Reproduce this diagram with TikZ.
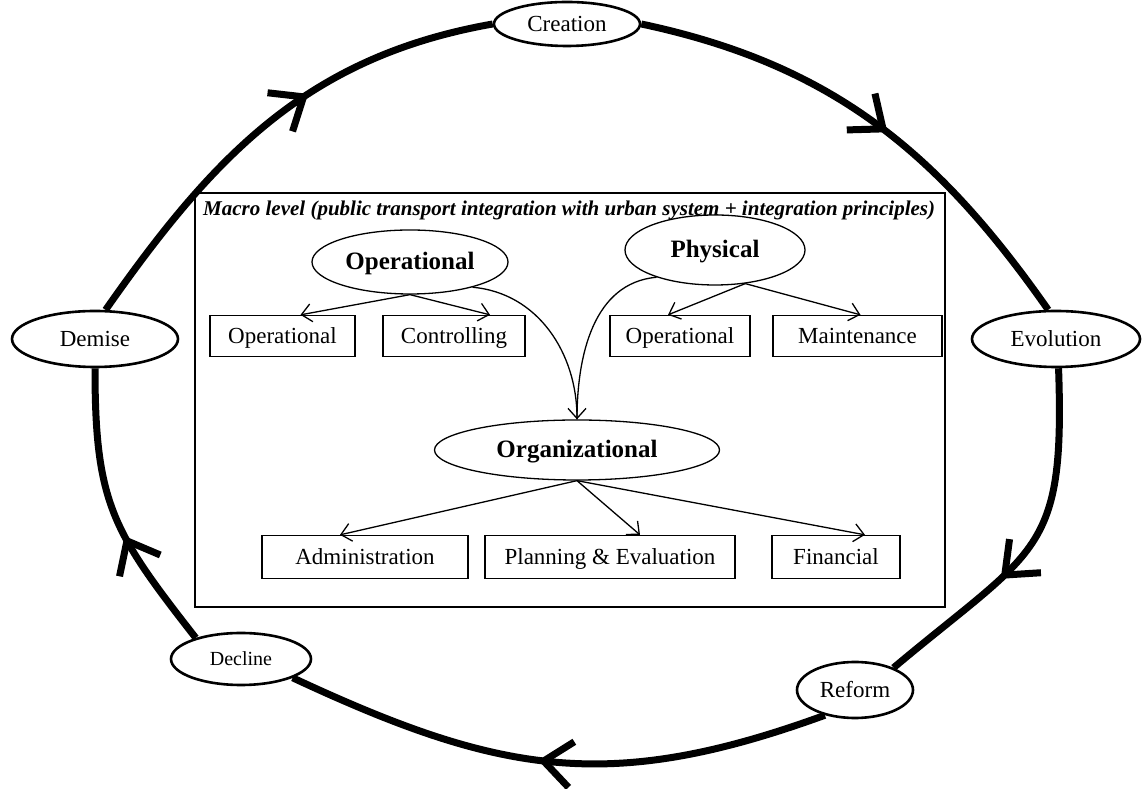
\documentclass[tikz,border=0pt]{standalone}
\usepackage{fontspec}
\setmainfont{Liberation Serif}
\usetikzlibrary{shapes.geometric,arrows.meta,decorations.markings,calc}
\begin{document}
\begin{tikzpicture}[x=1pt,y=1pt,
  stage/.style={draw,ellipse,line width=2.6pt,inner sep=0pt,font=\fontsize{23}{27}\selectfont},
  level/.style={draw,ellipse,line width=1.3pt,inner sep=0pt,text height=19pt,text depth=3pt,font=\fontsize{25}{29}\selectfont\bfseries},
  part/.style={draw,line width=1.3pt,inner sep=0pt,minimum height=41pt,text height=18pt,text depth=3pt,font=\fontsize{23}{27}\selectfont},
  link/.style={line width=1.3pt,-{Straight Barb[length=10pt,width=18pt]}},
  loopline/.style={line width=7pt,postaction={decorate},decoration={markings,
      mark=at position #1 with {\arrow{Straight Barb[length=28pt,width=46pt]}}}}]
\useasboundingbox (0,0) rectangle (1143,789);

% life cycle stages
\node[stage,minimum width=146pt,minimum height=44pt] (creation) at (567,765) {Creation};
\node[stage,minimum width=168pt,minimum height=56pt] (evolution) at (1056,450) {Evolution};
\node[stage,minimum width=116pt,minimum height=56pt] (reform) at (855,99) {Reform};
\node[stage,minimum width=140pt,minimum height=52pt,font=\fontsize{20}{24}\selectfont] (decline) at (241,130) {Decline};
\node[stage,minimum width=166pt,minimum height=56pt] (demise) at (95,450) {Demise};

\draw[loopline=0.53] (creation.east) to[out=-12,in=125] (evolution.105);
\draw[loopline=0.62] (evolution.-85) to[out=-88,in=40,looseness=1.4] (reform.30);
\draw[loopline=0.53] (reform.-140) to[out=200,in=-25,looseness=1.1] (decline.-20);
\draw[loopline=0.42] (decline.155) to[out=128,in=-90,looseness=1.2] (demise.-90);
\draw[loopline=0.6] (demise.70) to[out=55,in=190] (creation.west);

% macro level frame
\draw[line width=1.3pt] (195,182) rectangle (945,596);
\node[anchor=west,inner sep=0pt,font=\fontsize{21}{25}\selectfont\bfseries\itshape] (macro) at (203,579)
  {Macro level (public transport integration with urban system + integration principles)};

\node[level,minimum width=196pt,minimum height=64pt] (operational) at (410,527) {Operational};
\node[level,minimum width=180pt,minimum height=70pt] (physical) at (715,539) {Physical};
\node[level,minimum width=285pt,minimum height=60pt] (organizational) at (577,339) {Organizational};

\node[part,minimum width=145pt] (opbox) at (282.5,453) {Operational};
\node[part,minimum width=142pt] (ctrlbox) at (454,453) {Controlling};
\node[part,minimum width=140pt] (opbox2) at (680,453) {Operational};
\node[part,minimum width=169pt] (maintbox) at (857.5,453) {Maintenance};

\node[part,minimum width=206pt,minimum height=43pt] (adminbox) at (365,232) {Administration};
\node[part,minimum width=250pt,minimum height=43pt] (planbox) at (610,232) {Planning \& Evaluation};
\node[part,minimum width=128pt,minimum height=43pt] (finbox) at (836,232) {Financial};

\draw[link] (operational.south) -- ($(opbox.north)+(18,0)$);
\draw[link] (operational.south) -- ($(ctrlbox.north)+(36,0)$);
\draw[link] (physical.-48) -- ($(opbox2.north)+(-12,0)$);
\draw[link] (physical.-48) -- ($(maintbox.north)+(3,0)$);

\draw[line width=1.3pt] (physical.-155) to[out=185,in=90] (organizational.north);
\draw[link] (operational.-22) to[out=-5,in=90] (organizational.north);

\draw[link] (organizational.south) -- ($(adminbox.north)+(-25,0)$);
\draw[link] (organizational.south) -- ($(planbox.north)+(30,0)$);
\draw[link] (organizational.south) -- ($(finbox.north)+(29,0)$);
\end{tikzpicture}
\end{document}
